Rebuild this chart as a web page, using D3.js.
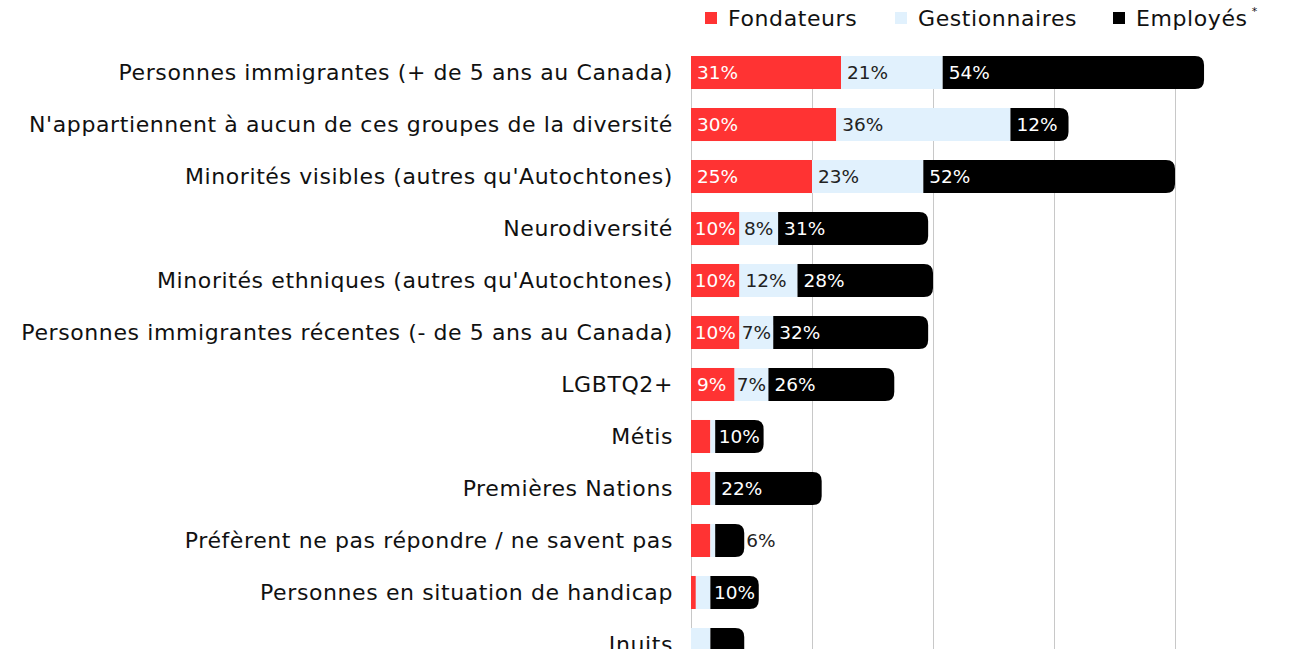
<!DOCTYPE html>
<html>
<head>
<meta charset="utf-8">
<script src="https://cdn.jsdelivr.net/npm/d3@7"></script>
<style>
  body { margin: 0; background: #fff; overflow: hidden; }
  svg { font-family: "DejaVu Sans", sans-serif; }
</style>
</head>
<body>
<div id="chart"></div>
<script>
// categories, top to bottom
const categories = [
    "Personnes immigrantes (+ de 5 ans au Canada)",
    "N'appartiennent à aucun de ces groupes de la diversité",
    "Minorités visibles (autres qu'Autochtones)",
    "Neurodiversité",
    "Minorités ethniques (autres qu'Autochtones)",
    "Personnes immigrantes récentes (- de 5 ans au Canada)",
    "LGBTQ2+",
    "Métis",
    "Premières Nations",
    "Préfèrent ne pas répondre / ne savent pas",
    "Personnes en situation de handicap",
    "Inuits"
];
const fondateurs    = [31, 30, 25, 10, 10, 10, 9, 4, 4, 4, 1, 0];
const gestionnaires = [21, 36, 23, 8, 12, 7, 7, 1, 1, 1, 3, 4];
const employes      = [54, 12, 52, 31, 28, 32, 26, 10, 22, 6, 10, 7];
const seriesNames = ["Fondateurs", "Gestionnaires", "Employés"];
const ticks = [0, 25, 50, 75, 100];
const minLabelValue = 6;
const noLabelRows = ["Inuits"];

const colors = ["#ff3333", "#e1f1fd", "#000000"];
const textColors = ["#ffffff", "#222222", "#ffffff"];

const W = 1290, H = 700;
const svg = d3.select("#chart").append("svg")
    .attr("width", W)
    .attr("height", H);

const x = d3.scaleLinear().domain([0, 100]).range([691, 1175]);
const y = d3.scaleBand()
    .domain(categories)
    .range([56, 56 + 52 * 12 - 19])
    .paddingInner(0.365)
    .paddingOuter(0);

// grid lines
svg.append("g")
    .selectAll("line")
    .data(ticks)
    .join("line")
    .attr("x1", d => x(d) + 0.5)
    .attr("x2", d => x(d) + 0.5)
    .attr("y1", y.range()[0])
    .attr("y2", H)
    .attr("stroke", "#c8c8c8")
    .attr("stroke-width", 1);

// category labels
svg.append("g")
    .selectAll("text")
    .data(categories)
    .join("text")
    .attr("x", x(0) - 18)
    .attr("y", d => y(d) + y.bandwidth() / 2)
    .attr("dy", "0.35em")
    .attr("text-anchor", "end")
    .attr("font-size", 22)
    .attr("letter-spacing", 0.6)
    .attr("fill", "#111")
    .text(d => d);

const rows = categories.map((c, i) => ({
    cat: c,
    vals: [fondateurs[i], gestionnaires[i], employes[i]]
}));

const stacked = d3.stack().keys([0, 1, 2]).value((d, k) => d.vals[k])(rows);

// right-rounded rect path
function roundRight(x0, y0, w, h, r) {
    r = Math.min(r, w, h / 2);
    return `M${x0},${y0}H${x0 + w - r}Q${x0 + w},${y0} ${x0 + w},${y0 + r}` +
        `V${y0 + h - r}Q${x0 + w},${y0 + h} ${x0 + w - r},${y0 + h}H${x0}Z`;
}

const bars = svg.append("g");
stacked.forEach((layer, k) => {
    const g = bars.append("g").attr("fill", colors[k]);
    layer.forEach(d => {
        const x0 = x(d[0]), w = x(d[1]) - x(d[0]);
        if (w <= 0) return;
        if (k === 2) {
            g.append("path").attr("d", roundRight(x0, y(d.data.cat), w, y.bandwidth(), 9));
        } else {
            g.append("rect")
                .attr("x", x0)
                .attr("y", y(d.data.cat))
                .attr("width", w)
                .attr("height", y.bandwidth());
        }
    });
});

// value labels
const labels = svg.append("g").attr("font-size", 18.5);
stacked.forEach((layer, k) => {
    layer.forEach(d => {
        const v = d.data.vals[k];
        if (v < minLabelValue || noLabelRows.includes(d.data.cat)) return;
        const w = x(d[1]) - x(d[0]);
        const t = labels.append("text")
            .attr("y", y(d.data.cat) + y.bandwidth() / 2)
            .attr("dy", "0.36em")
            .text(v + "%");
        const tw = t.node().getComputedTextLength();
        if (tw + 3 > w) {
            t.attr("x", x(d[1]) + 2).attr("fill", "#222");
        } else {
            const pad = Math.min(6, Math.max(1, (w - tw) / 2));
            t.attr("x", x(d[0]) + pad).attr("fill", textColors[k]);
        }
    });
});

// legend
const legendX = [705, 895, 1113];
const legend = svg.append("g")
    .selectAll("g")
    .data(seriesNames)
    .join("g")
    .attr("transform", (d, i) => `translate(${legendX[i]},18)`);

legend.append("rect")
    .attr("x", 0)
    .attr("y", -6)
    .attr("width", 12)
    .attr("height", 12)
    .attr("fill", (d, i) => colors[i]);

legend.append("text")
    .attr("x", 23)
    .attr("dy", "0.35em")
    .attr("font-size", 22)
    .attr("letter-spacing", 0.6)
    .attr("fill", "#111")
    .text(d => d);

const lastText = legend.filter((d, i) => i === 2).select("text").node();
svg.append("text")
    .attr("x", legendX[2] + 23 + lastText.getComputedTextLength() + 4)
    .attr("y", 15)
    .attr("font-size", 11)
    .attr("fill", "#111")
    .text("*");
</script>
</body>
</html>
